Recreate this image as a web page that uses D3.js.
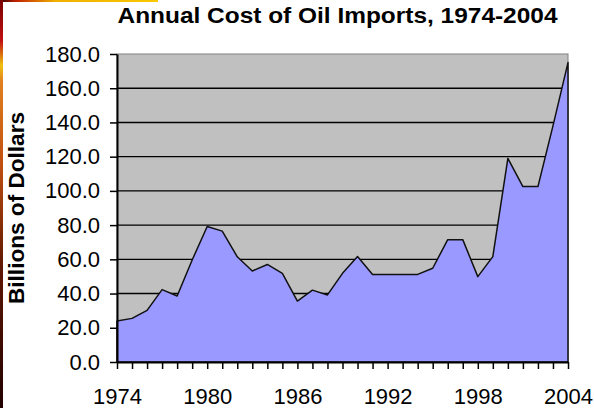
<!DOCTYPE html>
<html lang="en">
<head>
<meta charset="UTF-8">
<title>Annual Cost of Oil Imports, 1974-2004</title>
<script src="https://cdn.jsdelivr.net/npm/d3@7"></script>
<style>
    html, body {margin: 0; padding: 0; background: #fff;}
    svg {display: block;}
    text {font-family: Arial, "Liberation Sans", sans-serif; fill: #000;}
</style>
</head>
<body>
<svg id="chart"></svg>
<script>
    // DATA: annual cost of oil imports, billions of dollars
    const years = d3.range(1974, 2005);
    const cost = [24.0, 25.5, 30.2, 42.3, 38.6, 59.6, 79.2, 76.5, 61.5, 53.2,
                  57.0, 51.8, 35.6, 42.0, 39.2, 51.8, 61.6, 51.2, 51.2, 51.2,
                  51.2, 54.8, 71.5, 71.5, 49.9, 61.6, 119.0, 102.5, 102.5, 138.0,
                  175.0];
    const yTicks = [0, 20, 40, 60, 80, 100, 120, 140, 160, 180];
    const xLabels = [1974, 1980, 1986, 1992, 1998, 2004];
    const title = "Annual Cost of Oil Imports, 1974-2004";
    const yTitle = "Billions of Dollars";

    const data = years.map((yr, i) => ({year: yr, value: cost[i]}));

    // Dimensions
    const dim = {width: 594, height: 408};
    const plot = {left: 117, right: 568, top: 54, bottom: 362};

    const svg = d3.select("#chart").attr("width", dim.width).attr("height", dim.height);

    // scales
    const x = d3.scaleLinear().domain([1974, 2004]).range([plot.left, plot.right]);
    const y = d3.scaleLinear().domain([0, 180]).range([plot.bottom, plot.top]);

    // cropped page edges (decoration seen in the picture)
    const defs = svg.append("defs");
    const side = defs.append("linearGradient").attr("id", "side")
                     .attr("x1", 0).attr("y1", 0).attr("x2", 0).attr("y2", 1);
    [[0, "#7a0000"], [0.1, "#c01010"], [0.16, "#f0c010"], [0.2, "#e08020"],
     [0.4, "#c05010"], [0.65, "#601800"], [1, "#200000"]]
        .forEach(([o, c]) => side.append("stop").attr("offset", o).attr("stop-color", c));
    const topg = defs.append("linearGradient").attr("id", "topg");
    [[0, "#300000"], [0.1, "#c02000"], [0.35, "#f0b000"], [1, "#f8c800"]]
        .forEach(([o, c]) => topg.append("stop").attr("offset", o).attr("stop-color", c));
    svg.append("rect").attr("x", 0).attr("y", 0).attr("width", 158).attr("height", 2).attr("fill", "url(#topg)");
    svg.append("rect").attr("x", 0).attr("y", 0).attr("width", 3).attr("height", dim.height).attr("fill", "url(#side)");

    // plot background
    svg.append("rect")
       .attr("x", plot.left).attr("y", plot.top)
       .attr("width", plot.right - plot.left).attr("height", plot.bottom - plot.top)
       .attr("fill", "#c0c0c0").attr("stroke", "#808080").attr("stroke-width", 1);

    // gridlines
    svg.append("g").selectAll("line")
       .data(yTicks.filter(d => d > 0 && d < 180))
       .join("line")
          .attr("x1", plot.left).attr("x2", plot.right)
          .attr("y1", d => y(d)).attr("y2", d => y(d))
          .attr("stroke", "#000").attr("stroke-width", 1.4);

    // area
    const area = d3.area()
                   .x(d => x(d.year))
                   .y0(y(0))
                   .y1(d => y(d.value));
    svg.append("path").datum(data)
       .attr("d", area)
       .attr("fill", "#9999ff")
       .attr("stroke", "#111")
       .attr("stroke-width", 1.5)
       .attr("stroke-linejoin", "round");

    // axes
    const yAxis = d3.axisLeft(y).tickValues(yTicks).tickFormat(d3.format(".1f"))
                    .tickSize(7).tickSizeOuter(0).tickPadding(10);
    const gy = svg.append("g").attr("transform", `translate(${plot.left},0)`).call(yAxis);

    const xAxis = d3.axisBottom(x).tickValues(years)
                    .tickFormat(d => xLabels.includes(d) ? d : "")
                    .tickSize(7).tickSizeOuter(0).tickPadding(19);
    const gx = svg.append("g").attr("transform", `translate(0,${plot.bottom})`).call(xAxis);

    [gx, gy].forEach(g => {
        g.select(".domain").attr("stroke", "#000").attr("stroke-width", 2);
        g.selectAll(".tick line").attr("stroke", "#000").attr("stroke-width", 1.5);
        g.selectAll(".tick text").attr("font-size", 22)
         .attr("font-family", "Arial, 'Liberation Sans', sans-serif").attr("fill", "#111");
    });

    // titles
    svg.append("text")
       .attr("x", 337.5).attr("y", 23)
       .attr("text-anchor", "middle")
       .attr("font-size", 22).attr("font-weight", "bold")
       .attr("textLength", 440).attr("lengthAdjust", "spacingAndGlyphs")
       .text(title);

    svg.append("text")
       .attr("transform", `translate(24,${(plot.top + plot.bottom) / 2}) rotate(-90)`)
       .attr("text-anchor", "middle")
       .attr("font-size", 22).attr("font-weight", "bold")
       .attr("textLength", 192).attr("lengthAdjust", "spacingAndGlyphs")
       .text(yTitle);
</script>
</body>
</html>
